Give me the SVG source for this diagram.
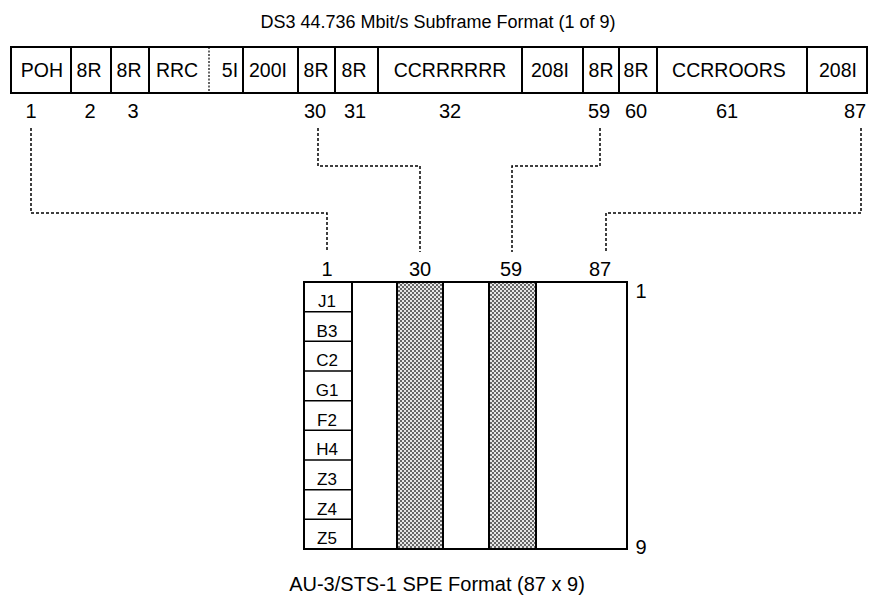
<svg xmlns="http://www.w3.org/2000/svg" width="875" height="602" viewBox="0 0 875 602">
<style>
text{font-family:"Liberation Sans",Arial,sans-serif;fill:#000;text-anchor:middle}
.t{font-size:18px}
.t2{font-size:20px}
.b{font-size:19.5px}
.n{font-size:20px}
.r{font-size:17px}
.box{fill:#fff;stroke:#000;stroke-width:2}
.div{stroke:#000;stroke-width:2}
.dot{stroke:#000;stroke-width:1.2;stroke-dasharray:2,1.5}
.con{fill:none;stroke:#000;stroke-width:1.5;stroke-dasharray:3,2}
.row{stroke:#000;stroke-width:1.5}
</style>
<defs>
<pattern id="chk" width="4" height="4" patternUnits="userSpaceOnUse">
<rect width="4" height="4" fill="#e6e6e6"/>
<rect width="2" height="2" fill="#666"/>
<rect x="2" y="2" width="2" height="2" fill="#666"/>
</pattern>
</defs>
<text class="t" x="438" y="28">DS3 44.736 Mbit/s Subframe Format (1 of 9)</text>
<g id="subframe">
<rect class="box" x="11" y="47" width="856" height="46"/>
<line class="div" x1="71" y1="47" x2="71" y2="93"/>
<line class="div" x1="111" y1="47" x2="111" y2="93"/>
<line class="div" x1="149" y1="47" x2="149" y2="93"/>
<line class="dot" x1="209" y1="47" x2="209" y2="93"/>
<line class="div" x1="243" y1="47" x2="243" y2="93"/>
<line class="div" x1="298" y1="47" x2="298" y2="93"/>
<line class="div" x1="335" y1="47" x2="335" y2="93"/>
<line class="div" x1="378" y1="47" x2="378" y2="93"/>
<line class="div" x1="522" y1="47" x2="522" y2="93"/>
<line class="div" x1="583" y1="47" x2="583" y2="93"/>
<line class="div" x1="619" y1="47" x2="619" y2="93"/>
<line class="div" x1="657" y1="47" x2="657" y2="93"/>
<line class="div" x1="807" y1="47" x2="807" y2="93"/>
<text class="b" x="42" y="77">POH</text>
<text class="b" x="89" y="77">8R</text>
<text class="b" x="129" y="77">8R</text>
<text class="b" x="177" y="77">RRC</text>
<text class="b" x="230" y="77">5I</text>
<text class="b" x="268" y="77">200I</text>
<text class="b" x="316" y="77">8R</text>
<text class="b" x="354" y="77">8R</text>
<text class="b" x="450" y="77">CCRRRRRR</text>
<text class="b" x="550" y="77">208I</text>
<text class="b" x="601" y="77">8R</text>
<text class="b" x="636" y="77">8R</text>
<text class="b" x="729" y="77">CCRROORS</text>
<text class="b" x="838" y="77">208I</text>
</g>
<g id="subframe-labels">
<text class="n" x="31" y="118">1</text>
<text class="n" x="90" y="118">2</text>
<text class="n" x="133" y="118">3</text>
<text class="n" x="315" y="118">30</text>
<text class="n" x="355" y="118">31</text>
<text class="n" x="450" y="118">32</text>
<text class="n" x="599" y="118">59</text>
<text class="n" x="636" y="118">60</text>
<text class="n" x="727" y="118">61</text>
<text class="n" x="855" y="118">87</text>
</g>
<g id="connectors">
<polyline class="con" points="31,128 31,213 327,213 327,252"/>
<polyline class="con" points="318,128 318,166 420,166 420,252"/>
<polyline class="con" points="600,128 600,166 512,166 512,252"/>
<polyline class="con" points="861,128 861,213 606,213 606,252"/>
</g>
<g id="spe">
<rect class="box" x="304" y="282" width="323" height="267"/>
<rect x="397" y="282" width="46" height="267" fill="url(#chk)" stroke="#000" stroke-width="2"/>
<rect x="489" y="282" width="47" height="267" fill="url(#chk)" stroke="#000" stroke-width="2"/>
<line class="div" x1="352" y1="282" x2="352" y2="549"/>
<line class="row" x1="303" y1="311.7" x2="352" y2="311.7"/>
<line class="row" x1="303" y1="341.3" x2="352" y2="341.3"/>
<line class="row" x1="303" y1="371" x2="352" y2="371"/>
<line class="row" x1="303" y1="400.7" x2="352" y2="400.7"/>
<line class="row" x1="303" y1="430.3" x2="352" y2="430.3"/>
<line class="row" x1="303" y1="460" x2="352" y2="460"/>
<line class="row" x1="303" y1="489.7" x2="352" y2="489.7"/>
<line class="row" x1="303" y1="519.3" x2="352" y2="519.3"/>
<text class="r" x="327" y="307">J1</text>
<text class="r" x="327" y="336.5">B3</text>
<text class="r" x="327" y="366">C2</text>
<text class="r" x="327" y="396">G1</text>
<text class="r" x="327" y="425.5">F2</text>
<text class="r" x="327" y="455">H4</text>
<text class="r" x="327" y="485">Z3</text>
<text class="r" x="327" y="514.5">Z4</text>
<text class="r" x="327" y="544">Z5</text>
</g>
<g id="spe-labels">
<text class="n" x="327" y="276">1</text>
<text class="n" x="420" y="276">30</text>
<text class="n" x="511" y="276">59</text>
<text class="n" x="600" y="276">87</text>
<text class="n" x="641" y="298">1</text>
<text class="n" x="641" y="554">9</text>
</g>
<text class="t2" x="437" y="591">AU-3/STS-1 SPE Format (87 x 9)</text>
</svg>
